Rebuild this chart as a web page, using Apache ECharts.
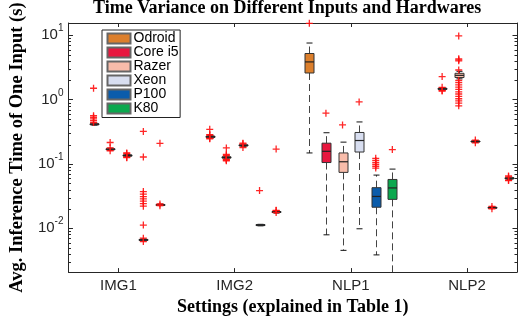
<!DOCTYPE html>
<html>
<head>
<meta charset="utf-8">
<script src="https://cdn.jsdelivr.net/npm/echarts@6/dist/echarts.min.js"></script>
<style>
html, body { margin: 0; padding: 0; background: #fff; }
#main { width: 528px; height: 321px; }
</style>
</head>
<body>
<div id="main"></div>
<script>
var categories = ['IMG1', 'IMG2', 'NLP1', 'NLP2'];
var hardwares = ['Odroid', 'Core i5', 'Razer', 'Xeon', 'P100', 'K80'];
var colors = ['#DC7F2C', '#E8173F', '#F8BCAA', '#D8DEF0', '#0B5CAB', '#0BA84E'];

// box stats [min, q1, median, q3, max] per setting (IMG1, IMG2, NLP1, NLP2), null = no run
var odroidBox = [null, null, [0.148, 2.59, 3.85, 5.2, 7.57], null];
var corei5Box = [[0.40, 0.41, 0.415, 0.42, 0.43], [0.25, 0.258, 0.264, 0.27, 0.278], [0.0079, 0.105, 0.157, 0.21, 0.305], [1.40, 1.44, 1.47, 1.50, 1.53]];
var razerBox = [[0.163, 0.166, 0.169, 0.172, 0.175], [0.12, 0.123, 0.126, 0.129, 0.132], [0.00453, 0.0738, 0.108, 0.148, 0.218], [2.1, 2.2, 2.38, 2.56, 2.75]];
var xeonBox = [[0.13, 0.132, 0.135, 0.138, 0.14], [0.185, 0.19, 0.194, 0.198, 0.202], [0.0098, 0.153, 0.231, 0.308, 0.449], [0.215, 0.219, 0.223, 0.227, 0.231]];
var p100Box = [[0.0064, 0.0065, 0.0066, 0.0067, 0.0068], [0.0109, 0.011, 0.0112, 0.0114, 0.0115], [0.00385, 0.0212, 0.0312, 0.0427, 0.067], [0.0203, 0.0206, 0.0209, 0.0212, 0.0215]];
var k80Box = [[0.0225, 0.0228, 0.0231, 0.0234, 0.0237], [0.0172, 0.0176, 0.0179, 0.0182, 0.0185], [0.0015, 0.0281, 0.0423, 0.0573, 0.083], [0.057, 0.0585, 0.0599, 0.061, 0.062]];

// outliers per setting
var odroidOut = [[], [], [15.3], []];
var corei5Out = [[1.5, 0.44, 0.47, 0.5, 0.53, 0.56], [0.345, 0.285, 0.28, 0.25, 0.245], [0.614], [2.28, 1.55, 1.38, 1.36]];
var razerOut = [[0.215, 0.16, 0.178], [0.177, 0.14, 0.135, 0.118, 0.115, 0.112], [0.404],
  [9.75, 4.3, 4.15, 4.0, 2.88, 1.98, 1.83, 1.69, 1.56, 1.44, 1.32, 1.22, 1.12, 1.03, 0.955, 0.88, 0.80]];
var xeonOut = [[0.145, 0.148, 0.127, 0.125], [0.21, 0.205, 0.18], [0.92], [0.235, 0.213]];
var p100Out = [[0.32, 0.128, 0.0371, 0.0339, 0.0309, 0.0285, 0.0263, 0.0242, 0.022, 0.0112, 0.0062, 0.0070], [0.0385], [0.086, 0.092, 0.098, 0.105, 0.113, 0.122], [0.0218, 0.0201]];
var k80Out = [[0.209, 0.0238, 0.0224], [0.17, 0.0188, 0.019, 0.0175], [0.167], [0.065, 0.063, 0.056, 0.055]];

var yMin = 0.00208, yMax = 15.5;
var xMin = 0.57, xMax = 4.43;

var boxes = [odroidBox, corei5Box, razerBox, xeonBox, p100Box, k80Box];
var outs = [odroidOut, corei5Out, razerOut, xeonOut, p100Out, k80Out];

var minorTicks = [];
[0.001, 0.01, 0.1, 1, 10].forEach(function (d) {
  for (var m = 2; m <= 9; m++) {
    var v = m * d;
    if (v > yMin && v < yMax) minorTicks.push([v]);
  }
});

var myChart = echarts.init(document.getElementById('main'));

function renderBox(params, api) {
  var x = api.value(0);
  var pMin = api.coord([x, api.value(1)]);
  var pQ1 = api.coord([x, api.value(2)]);
  var pMed = api.coord([x, api.value(3)]);
  var pQ3 = api.coord([x, api.value(4)]);
  var pMax = api.coord([x, api.value(5)]);
  var cx = Math.round(pMed[0]) + 0.5;
  var hw = 4.5, cw = 3;
  var fill = api.visual('color');
  var dash = { stroke: '#444', lineWidth: 1, lineDash: [7, 4] };
  var solid = { stroke: '#111', lineWidth: 1 };
  return {
    type: 'group',
    children: [
      { type: 'line', shape: { x1: cx, y1: pQ3[1], x2: cx, y2: pMax[1] }, style: dash },
      { type: 'line', shape: { x1: cx, y1: pQ1[1], x2: cx, y2: pMin[1] }, style: dash },
      { type: 'line', shape: { x1: cx - cw, y1: pMax[1], x2: cx + cw, y2: pMax[1] }, style: solid },
      { type: 'line', shape: { x1: cx - cw, y1: pMin[1], x2: cx + cw, y2: pMin[1] }, style: solid },
      { type: 'rect', shape: { x: cx - hw, y: pQ3[1], width: hw * 2, height: Math.max(pQ1[1] - pQ3[1], 1) },
        style: { fill: fill, stroke: '#333', lineWidth: 1 } },
      { type: 'line', shape: { x1: cx - hw, y1: pMed[1], x2: cx + hw, y2: pMed[1] }, style: { stroke: '#222', lineWidth: 1.2 } }
    ]
  };
}

function renderMinor(params, api) {
  var cs = params.coordSys;
  var y = Math.round(api.coord([1, api.value(0)])[1]) + 0.5;
  return {
    type: 'group',
    children: [
      { type: 'line', shape: { x1: cs.x, y1: y, x2: cs.x + 2.5, y2: y }, style: { stroke: '#262626', lineWidth: 1 } },
      { type: 'line', shape: { x1: cs.x + cs.width - 2.5, y1: y, x2: cs.x + cs.width, y2: y }, style: { stroke: '#262626', lineWidth: 1 } }
    ]
  };
}

var series = [];
hardwares.forEach(function (name, h) {
  var off = (h - 2.5) / 7;
  var boxData = [];
  var outData = [];
  categories.forEach(function (cat, c) {
    var b = boxes[h][c];
    if (b) boxData.push([c + 1 + off].concat(b));
    outs[h][c].forEach(function (v) { outData.push([c + 1 + off, v]); });
  });
  series.push({
    name: name,
    type: 'custom',
    renderItem: renderBox,
    clip: true,
    itemStyle: { color: colors[h], borderColor: '#666', borderWidth: 1 },
    encode: { x: 0, y: [1, 2, 3, 4, 5] },
    data: boxData,
    z: 2
  });
  series.push({
    name: name + ' outliers',
    type: 'scatter',
    symbol: 'path://M2.85,0H4.15V2.85H7V4.15H4.15V7H2.85V4.15H0V2.85H2.85Z',
    symbolSize: 7,
    itemStyle: { color: '#FF1010', opacity: 0.9 },
    data: outData,
    z: 3,
    silent: true
  });
});
series.push({
  name: 'minor ticks',
  type: 'custom',
  renderItem: renderMinor,
  data: minorTicks,
  encode: { y: 0 },
  silent: true,
  z: 1
});

var axisColor = '#262626';
var labelFont = 'Liberation Sans, Arial, sans-serif';
var serifFont = 'Liberation Serif, Times New Roman, serif';

var option = {
  backgroundColor: '#fff',
  animation: false,
  title: {
    text: 'Time Variance on Different Inputs and Hardwares',
    left: 93,
    top: -1,
    padding: 0,
    textStyle: { fontFamily: serifFont, fontWeight: 'bold', fontSize: 18, color: '#000' }
  },
  legend: {
    data: hardwares,
    orient: 'vertical',
    left: 102,
    top: 30,
    padding: [1.5, 1.5, 2, 4.5],
    itemWidth: 23,
    itemHeight: 10,
    itemGap: 0,
    icon: 'rect',
    backgroundColor: '#fff',
    borderColor: '#222',
    borderWidth: 1,
    borderRadius: 0,
    textStyle: { fontFamily: labelFont, fontSize: 14, color: '#000', lineHeight: 13.6, padding: [0, 0, 0, -2] }
  },
  grid: { left: 63, top: 23, width: 454, height: 255.5 },
  xAxis: [{
    type: 'value',
    min: xMin,
    max: xMax,
    splitNumber: 4,
    position: 'bottom',
    axisLine: { lineStyle: { color: axisColor, width: 1 } },
    axisTick: { inside: true, length: 4, lineStyle: { color: axisColor } },
    axisLabel: {
      color: '#262626', fontFamily: labelFont, fontSize: 15, margin: 6,
      showMinLabel: false, showMaxLabel: false,
      formatter: function (v) {
        return Math.abs(v - Math.round(v)) < 1e-6 ? (categories[Math.round(v) - 1] || '') : '';
      }
    },
    splitLine: { show: false },
    name: 'Settings (explained in Table 1)',
    nameLocation: 'middle',
    nameGap: 23,
    nameTextStyle: { fontFamily: serifFont, fontWeight: 'bold', fontSize: 18, color: '#000' }
  }, {
    type: 'value',
    min: xMin,
    max: xMax,
    splitNumber: 4,
    position: 'top',
    axisLine: { lineStyle: { color: axisColor, width: 1 } },
    axisTick: { inside: true, length: 4, lineStyle: { color: axisColor } },
    axisLabel: { show: false },
    splitLine: { show: false }
  }],
  yAxis: [{
    type: 'log',
    logBase: 10,
    min: yMin,
    max: yMax,
    position: 'left',
    axisLine: { show: true, lineStyle: { color: axisColor, width: 1 } },
    axisTick: { inside: true, length: 4.5, lineStyle: { color: axisColor } },
    axisLabel: {
      color: '#262626', fontFamily: labelFont, fontSize: 15, margin: 5,
      showMinLabel: false, showMaxLabel: false,
      formatter: function (v) {
        var e = Math.log10(v);
        var r = Math.round(e);
        if (Math.abs(e - r) > 1e-6) return '';
        return '{b|10}{s|' + r + '}';
      },
      rich: {
        b: { fontFamily: labelFont, fontSize: 15, color: '#262626', lineHeight: 23 },
        s: { fontFamily: labelFont, fontSize: 10, color: '#262626', verticalAlign: 'top', lineHeight: 10 }
      }
    },
    splitLine: { show: false },
    name: 'Avg. Inference Time of One Input (s)',
    nameLocation: 'middle',
    nameGap: 37,
    nameTextStyle: { fontFamily: serifFont, fontWeight: 'bold', fontSize: 18.5, color: '#000' }
  }, {
    type: 'log',
    logBase: 10,
    min: yMin,
    max: yMax,
    position: 'right',
    axisLine: { show: true, lineStyle: { color: axisColor, width: 1 } },
    axisTick: { inside: true, length: 4.5, lineStyle: { color: axisColor } },
    axisLabel: { show: false },
    splitLine: { show: false }
  }],
  series: series
};

myChart.setOption(option);
</script>
</body>
</html>
